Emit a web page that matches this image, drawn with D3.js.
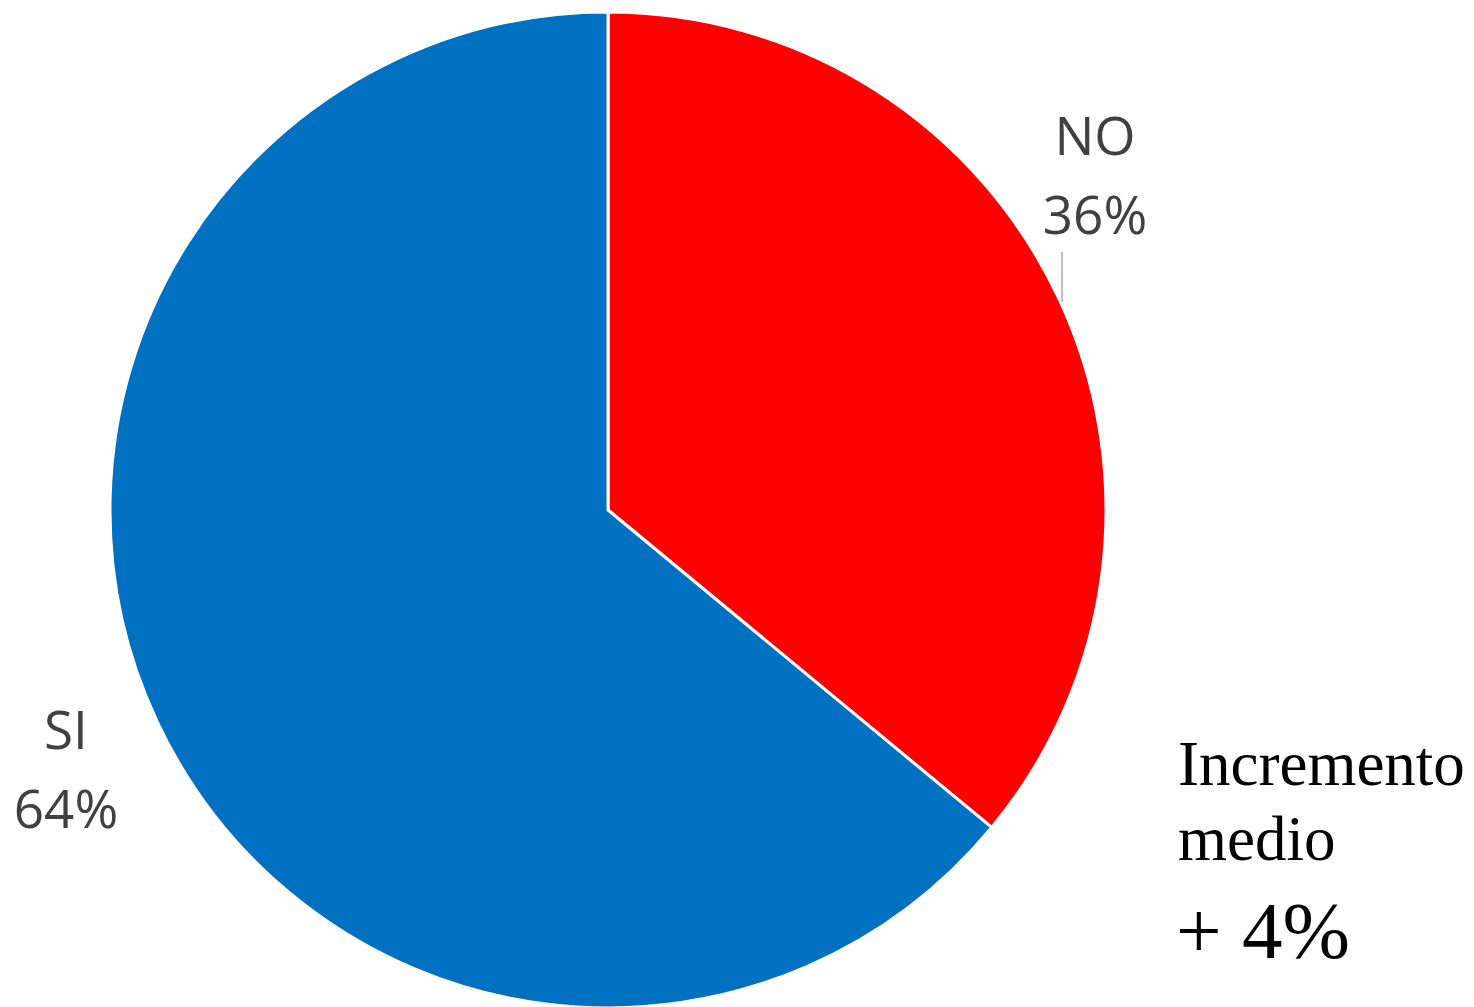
<!DOCTYPE html>
<html>
<head>
<meta charset="utf-8">
<script src="https://cdn.jsdelivr.net/npm/d3@7"></script>
<style>
  body { margin: 0; background: #fff; }
</style>
</head>
<body>
<div id="the_chart"></div>
<script>
var labels = ["NO", "SI"];
var values = [36, 64];
var colors = ["#FF0000", "#0070C0"];
var note = ["Incremento", "medio", "+ 4%"];

var w = 1474;
var h = 1007;
var cx = 608, cy = 510, r = 498;

var svg = d3.select("#the_chart")
  .append("svg")
  .attr("width", w)
  .attr("height", h);

var data = labels.map(function (d, i) {
  return { label: d, value: values[i], color: colors[i] };
});

var pie = d3.pie()
  .sort(null)
  .value(function (d) { return d.value; });

var arc = d3.arc()
  .innerRadius(0)
  .outerRadius(r);

var g = svg.append("g")
  .attr("transform", "translate(" + cx + "," + cy + ")");

g.selectAll("path")
  .data(pie(data))
  .enter().append("path")
  .attr("d", arc)
  .attr("fill", function (d) { return d.data.color; })
  .attr("stroke", "#fff")
  .attr("stroke-width", 3)
  .attr("stroke-linejoin", "round");

// data labels, placed outside the pie
var labelPos = [
  { x: 1095, y: 155 },
  { x: 66, y: 749 }
];

data.forEach(function (d, i) {
  var t = svg.append("text")
    .attr("text-anchor", "middle")
    .attr("font-family", "'Open Sans', sans-serif")
    .attr("font-size", 53)
    .attr("fill", "#404040");
  t.append("tspan")
    .attr("x", labelPos[i].x)
    .attr("y", labelPos[i].y)
    .text(d.label);
  t.append("tspan")
    .attr("x", labelPos[i].x)
    .attr("y", labelPos[i].y + 79)
    .text(d.value + "%");
});

// leader line for NO
svg.append("line")
  .attr("x1", 1062).attr("y1", 252)
  .attr("x2", 1062).attr("y2", 302)
  .attr("stroke", "#bfbfbf")
  .attr("stroke-width", 2);

// note on the right
svg.append("text")
  .attr("x", 1178).attr("y", 785)
  .attr("font-family", "'Liberation Serif', 'Times New Roman', serif")
  .attr("font-size", 63)
  .attr("fill", "#000")
  .text(note[0]);

svg.append("text")
  .attr("x", 1178).attr("y", 860)
  .attr("font-family", "'Liberation Serif', 'Times New Roman', serif")
  .attr("font-size", 63)
  .attr("fill", "#000")
  .text(note[1]);

svg.append("text")
  .attr("x", 1176).attr("y", 958)
  .attr("font-family", "'Liberation Serif', 'Times New Roman', serif")
  .attr("font-size", 81)
  .attr("fill", "#000")
  .text(note[2]);
</script>
</body>
</html>
